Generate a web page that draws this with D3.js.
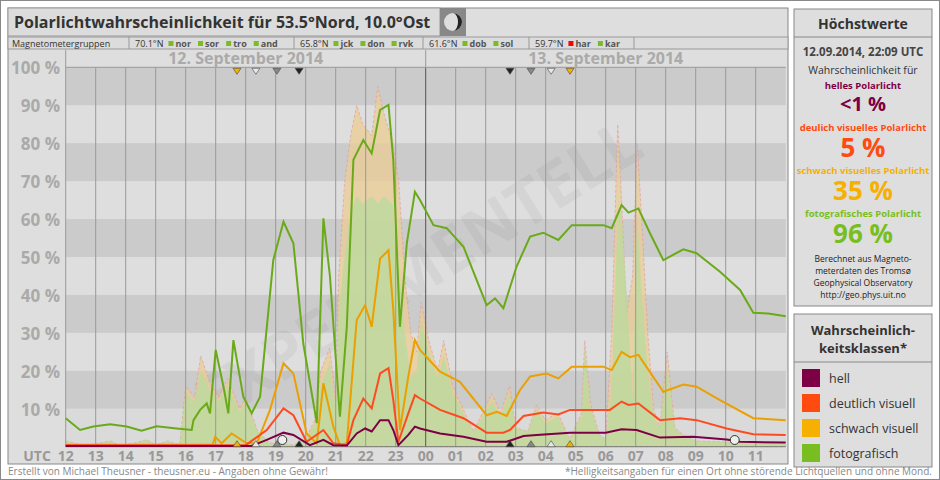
<!DOCTYPE html>
<html><head><meta charset="utf-8">
<script src="https://cdn.jsdelivr.net/npm/d3@7"></script>
<style>body{margin:0;background:#fff}svg{display:block}text{font-family:"Open Sans",sans-serif}</style>
</head><body><svg id="c" width="940" height="480"></svg>
<script>
// hours since 12:00 UTC, 12 Sep 2014
var fotoT = [0,0.48,0.92,1.48,2.03,2.53,3.03,3.7,4.2,4.26,4.48,4.7,4.81,5.0,5.26,5.42,5.59,5.92,6.2,6.48,6.92,7.26,7.59,7.92,8.37,8.59,8.81,9.14,9.37,9.59,9.92,10.2,10.48,10.76,10.92,11.14,11.37,11.64,11.81,12.26,12.7,13.26,14.03,14.31,14.59,15.03,15.48,15.92,16.42,16.87,17.92,18.2,18.53,18.76,19.09,19.48,19.92,20.59,21.03,21.81,22.48,22.92,23.42,24];
var fotoV = [7.5,4.4,5.3,5.9,5.3,4.2,5.4,4.8,4.4,7.0,9.7,11.4,8.8,25.5,15.8,8.8,28.1,13.2,8.8,13.2,49.2,59.3,53.6,27.2,6.2,60.2,44.8,7.9,31.6,75.6,80.8,77.3,88.8,90.1,75.6,31.6,53.6,67.2,65.0,58.4,57.6,52.7,37.3,39.1,36.5,47.5,55.4,56.4,54.5,58.4,58.4,57.6,63.7,61.7,62.8,56.2,49.2,52.0,51.0,46.1,41.3,35.3,35.1,34.4];

var schwachT = [0,4.9,4.98,5.2,5.53,6.03,6.37,6.81,7.26,7.59,8.03,8.37,8.59,8.92,9.14,9.37,9.7,9.98,10.2,10.48,10.76,10.92,11.14,11.42,11.64,11.81,12.48,13.14,14.03,14.37,14.7,15.14,15.48,16.03,16.42,16.87,17.92,18.2,18.53,18.81,19.09,19.92,20.59,21.03,21.81,22.92,24];
var schwachV = [0.5,0.5,2.6,0.9,3.5,0.9,0.9,9.7,22.0,19.3,3.5,0.9,16.7,5.3,0.4,0.9,33.4,37.3,31.6,49.6,51.8,36.0,4.4,18.5,28.1,25.5,19.8,17.1,8.3,9.2,8.1,14.9,18.5,19.3,18.0,21.1,21.1,20.2,25.0,23.6,24.2,14.5,16.4,15.8,12.3,7.5,7.0];

var deutlichT = [0,6.0,6.7,7.26,7.59,8.03,8.59,8.92,9.37,9.59,9.92,10.2,10.48,10.76,10.92,11.09,11.42,11.64,11.81,12.48,13.26,14.03,14.59,14.81,15.26,15.92,16.42,16.81,18.14,18.53,18.76,19.09,19.81,20.48,21.03,22.03,22.92,24];
var deutlichV = [0.4,0.4,4.4,10.1,8.3,1.3,4.4,0.9,0.4,7.0,12.7,10.1,19.3,20.7,12.3,1.3,8.8,13.6,12.7,9.7,7.5,3.7,3.7,4.4,8.1,9.0,8.5,9.7,9.7,11.9,11.0,11.4,7.0,7.5,7.0,4.8,3.3,3.1];

var hellT = [0,6.2,6.7,7.26,7.59,8.14,8.59,8.92,9.37,9.7,9.98,10.2,10.48,10.76,10.92,11.09,11.42,11.64,11.81,12.48,13.26,14.03,14.7,15.26,15.7,16.81,18.0,18.53,19.03,19.81,20.92,22.03,22.48,24];
var hellV = [0.2,0.2,1.8,3.7,3.1,0.4,1.8,0.4,0.3,3.5,4.8,4.0,7.0,7.0,4.4,0.4,3.1,5.3,4.8,3.5,2.6,1.3,1.3,2.8,3.1,3.7,3.7,4.6,4.4,2.4,2.6,1.9,1.3,1.1];

// raw magnetometer based fill (photographic / visual)
var rawT = [0,0.3,0.6,1.5,1.8,2.3,2.7,3.0,3.4,3.8,4.0,4.3,4.5,4.8,5.1,5.4,5.8,6.0,6.4,6.8,7.6,8.0,8.3,8.5,8.8,9.0,9.1,9.3,9.5,9.7,9.9,10.2,10.4,10.6,10.9,11.1,11.3,11.5,11.7,11.85,12.1,12.4,12.6,12.9,13.3,13.6,13.9,14.2,14.5,14.8,15.0,15.4,15.7,16.0,16.4,16.8,17.2,17.3,17.5,17.8,18.0,18.2,18.4,18.5,18.7,18.9,19.05,19.2,19.4,19.6,19.8,20.05,20.3,20.6,21.0,22.0,23.0,24];
var rawFoto = [1.5,1.0,0.3,1.5,0.3,1.0,1.8,0.5,1.5,0.5,14,12,20,15,12,16,9,12,4,1,0.5,2,6,16,22,10,35,50,62,66,64,66,64,66,64,48,30,18,20,33,25,18,24,14,8,4,8,12,8,14,5,4,10,6,8,2,8,26,10,3,2,15,60,64,40,12,61,40,20,8,5,21,5,3,1.5,1.2,1.0,1.0];
var rawVis = [1.5,1.0,0.3,1.5,0.3,1.0,1.8,0.5,1.5,0.5,16,13,24,17,13,18,10,13,4,1,0.5,2,7,20,26,12,45,70,82,90,85,82,95,88,80,70,45,30,25,38,28,20,28,16,9,4,9,14,9,16,5,4,11,7,9,2,9,28,11,3,2,30,85,70,35,45,80,60,30,10,5,25,5,3,1.5,1.2,1.0,1.0];

var hourLabels = ["12","13","14","15","16","17","18","19","20","21","22","23","00","01","02","03","04","05","06","07","08","09","10","11"];
var yTicks = [10,20,30,40,50,60,70,80,90,100];
var sunT = [5.71,6.34,7.04,7.78,14.81,15.51,16.18,16.81];
var sunCol = ["#f5b000","#e8e8e8","#888","#222","#222","#888","#e8e8e8","#f5b000"];
var groups = [["70.1°N",["nor","sor","tro","and"]],["65.8°N",["jck","don","rvk"]],["61.6°N",["dob","sol"]],["59.7°N",["har","kar"]]];
var classNames = ["hell","deutlich visuell","schwach visuell","fotografisch"];
var classCols = ["#7d0045","#ff4a10","#f5b000","#78be20"];

var svg = d3.select("#c");
var x = d3.scaleLinear().domain([0,24]).range([65.7,785.7]);
var y = d3.scaleLinear().domain([0,100]).range([446.7,67.3]);

svg.append("rect").attr("x",0.5).attr("y",0.5).attr("width",939).attr("height",479).attr("fill","#fff").attr("stroke","#888");
svg.append("rect").attr("x",8).attr("y",8).attr("width",780).attr("height",456).attr("fill","#dedede").attr("stroke","#888");

// title
svg.append("rect").attr("x",8).attr("y",8).attr("width",432).attr("height",28).attr("fill","#dcdcdc").attr("stroke","#999");
svg.append("text").attr("x",14).attr("y",28).attr("font-size",16).attr("font-weight","bold").attr("fill","#333")
  .text("Polarlichtwahrscheinlichkeit für 53.5°Nord, 10.0°Ost");
svg.append("rect").attr("x",440).attr("y",8).attr("width",26).attr("height",28).attr("fill","#888");
svg.append("circle").attr("cx",453).attr("cy",22).attr("r",9).attr("fill","#ddd");
svg.append("path").attr("d","M453,13 A9,9 0 0,1 453,31 A5,9 0 0,0 453,13").attr("fill","#222");

// magnetometer row
svg.append("rect").attr("x",8).attr("y",37).attr("width",780).attr("height",12).attr("fill","#dcdcdc").attr("stroke","#999");
svg.append("text").attr("x",12).attr("y",47).attr("font-size",9).attr("fill","#333").text("Magnetometergruppen");
var seps = [129,294,423,529,634];
seps.forEach(function(s){svg.append("line").attr("x1",s).attr("x2",s).attr("y1",37).attr("y2",49).attr("stroke","#999");});
groups.forEach(function(g,i){
  var px = seps[i]+6;
  var t = svg.append("text").attr("x",px).attr("y",47).attr("font-size",9).attr("fill","#333").text(g[0]);
  px += t.node().getComputedTextLength()+5;
  g[1].forEach(function(n){
    svg.append("rect").attr("x",px).attr("y",41).attr("width",5).attr("height",5).attr("fill",n=="har"?"#f00":"#78be20");
    var tt = svg.append("text").attr("x",px+7).attr("y",47).attr("font-size",9).attr("font-weight","bold").attr("fill","#555").text(n);
    px += 7+tt.node().getComputedTextLength()+7;
  });
});

// bands
yTicks.forEach(function(v,i){
  if (i%2==0) svg.append("rect").attr("x",x(0)).attr("y",y(v+10)).attr("width",x(24)-x(0)).attr("height",y(v)-y(v+10)).attr("fill","#cbcbcb");
});
svg.append("rect").attr("x",x(0)).attr("y",y(10)).attr("width",x(24)-x(0)).attr("height",y(0)-y(10)).attr("fill","#dadada");

// watermark
svg.append("text").attr("transform","translate(430,290) rotate(-32)").attr("text-anchor","middle")
  .attr("font-size",64).attr("font-weight","bold").attr("fill","#000").attr("opacity",0.04).text("EXPERIMENTELL");

// raw fills
var area = function(vals){ return d3.area().x(function(d,i){return x(rawT[i]);}).y0(y(0)).y1(function(d){return y(d);})(vals); };
svg.append("path").attr("d",area(rawVis)).attr("fill","#ebcd93").attr("opacity",0.75).attr("stroke","#e4a0a0").attr("stroke-width",1).attr("stroke-dasharray","3,2");
svg.append("path").attr("d",area(rawFoto)).attr("fill","#bcd99e").attr("opacity",0.8);

// vertical grid
d3.range(1,24).forEach(function(h){
  svg.append("line").attr("x1",x(h)).attr("x2",x(h)).attr("y1",y(100)).attr("y2",y(0)).attr("stroke",h==12?"#555":"#999").attr("stroke-width",1);
});
svg.append("line").attr("x1",x(12)).attr("x2",x(12)).attr("y1",50).attr("y2",y(100)).attr("stroke","#999");
svg.append("line").attr("x1",x(0)).attr("x2",x(0)).attr("y1",50).attr("y2",y(0)).attr("stroke","#999");
svg.append("line").attr("x1",x(0)).attr("x2",x(24)).attr("y1",y(0)).attr("y2",y(0)).attr("stroke","#777");
svg.append("line").attr("x1",x(0)).attr("x2",x(24)).attr("y1",y(100)).attr("y2",y(100)).attr("stroke","#999");

// date labels
svg.append("text").attr("x",x(6)).attr("y",64).attr("text-anchor","middle").attr("font-size",16).attr("font-weight","bold").attr("font-family","Roboto").attr("fill","#aaa").text("12. September 2014");
svg.append("text").attr("x",x(18)).attr("y",64).attr("text-anchor","middle").attr("font-size",16).attr("font-weight","bold").attr("font-family","Roboto").attr("fill","#aaa").text("13. September 2014");

// y labels
yTicks.forEach(function(v){
  svg.append("text").attr("x",60).attr("y",y(v)+7).attr("text-anchor","end").attr("font-size",17).attr("font-weight","bold").attr("font-family","Roboto").attr("fill","#aaa").text(v+" %");
});

// series lines
function drawLine(ts,vs,col){
  svg.append("path").datum(vs).attr("d",d3.line().x(function(d,i){return x(ts[i]);}).y(function(d){return y(d);}))
    .attr("fill","none").attr("stroke",col).attr("stroke-width",2);
}
drawLine(fotoT,fotoV,"#6aaa1a");
drawLine(schwachT,schwachV,"#eaa000");
drawLine(deutlichT,deutlichV,"#ff4a20");
drawLine(hellT,hellV,"#7d0045");

// sun markers
sunT.forEach(function(t,i){
  var cx = x(t);
  svg.append("path").attr("d","M"+(cx-4)+","+(y(100)+1)+"L"+(cx+4)+","+(y(100)+1)+"L"+cx+","+(y(100)+7)+"Z").attr("fill",sunCol[i]).attr("stroke","#444").attr("stroke-width",0.6);
  svg.append("path").attr("d","M"+(cx-4)+","+(y(0))+"L"+(cx+4)+","+(y(0))+"L"+cx+","+(y(0)-6)+"Z").attr("fill",sunCol[i]).attr("stroke","#444").attr("stroke-width",0.6);
});
[7.22,22.3].forEach(function(t){
  svg.append("circle").attr("cx",x(t)).attr("cy",440).attr("r",4.5).attr("fill","#eee").attr("stroke","#333").attr("stroke-width",1);
});

// x labels
svg.append("text").attr("x",37).attr("y",461).attr("text-anchor","middle").attr("font-size",14).attr("font-weight","bold").attr("font-family","Roboto").attr("fill","#999").text("UTC");
hourLabels.forEach(function(l,i){
  svg.append("text").attr("x",x(i)).attr("y",461).attr("text-anchor","middle").attr("font-size",14).attr("font-weight","bold").attr("font-family","Roboto").attr("fill","#999").text(l);
});

// footer
svg.append("text").attr("x",8).attr("y",475).attr("font-size",10).attr("fill","#888").text("Erstellt von Michael Theusner - theusner.eu - Angaben ohne Gewähr!");
svg.append("text").attr("x",932).attr("y",475).attr("text-anchor","end").attr("font-size",10).attr("fill","#888").text("*Helligkeitsangaben für einen Ort ohne störende Lichtquellen und ohne Mond.");

// Höchstwerte panel
svg.append("rect").attr("x",794).attr("y",9).attr("width",138).attr("height",297).attr("fill","#dedede").attr("stroke","#888");
svg.append("line").attr("x1",794).attr("x2",932).attr("y1",37).attr("y2",37).attr("stroke","#888");
var cx = 863;
function ptxt(yy,s,size,col,bold){svg.append("text").attr("x",cx).attr("y",yy).attr("text-anchor","middle").attr("font-size",size).attr("font-weight",bold?"bold":"normal").attr("fill",col).text(s);}
ptxt(29,"Höchstwerte",14,"#333",true);
ptxt(56,"12.09.2014, 22:09 UTC",11.5,"#444",true);
ptxt(74,"Wahrscheinlichkeit für",10.5,"#333",false);
ptxt(89,"helles Polarlicht",9.5,"#7d0045",true);
ptxt(111,"<1 %",20,"#7d0045",true);
ptxt(131,"deulich visuelles Polarlicht",9.5,"#ff4a10",true);
ptxt(157,"5 %",26,"#ff4a10",true);
ptxt(174,"schwach visuelles Polarlicht",9.5,"#f5b000",true);
ptxt(200,"35 %",26,"#f5b000",true);
ptxt(217,"fotografisches Polarlicht",9.5,"#78be20",true);
ptxt(243,"96 %",26,"#78be20",true);
ptxt(262,"Berechnet aus Magneto-",8.5,"#222",false);
ptxt(274,"meterdaten des Tromsø",8.5,"#222",false);
ptxt(286,"Geophysical Observatory",8.5,"#222",false);
ptxt(298,"http://geo.phys.uit.no",8.5,"#222",false);

// legend panel
svg.append("rect").attr("x",794).attr("y",314).attr("width",138).attr("height",153).attr("fill","#dedede").attr("stroke","#888");
svg.append("line").attr("x1",794).attr("x2",932).attr("y1",362).attr("y2",362).attr("stroke","#888");
ptxt(335,"Wahrscheinlich-",13,"#333",true);
ptxt(353,"keitsklassen*",13,"#333",true);
classNames.forEach(function(n,i){
  var yy = 369+i*25;
  svg.append("rect").attr("x",802).attr("y",yy).attr("width",18).attr("height",18).attr("fill",classCols[i]);
  svg.append("text").attr("x",829).attr("y",yy+14).attr("font-size",12.5).attr("fill","#333").text(n);
});
</script></body></html>
